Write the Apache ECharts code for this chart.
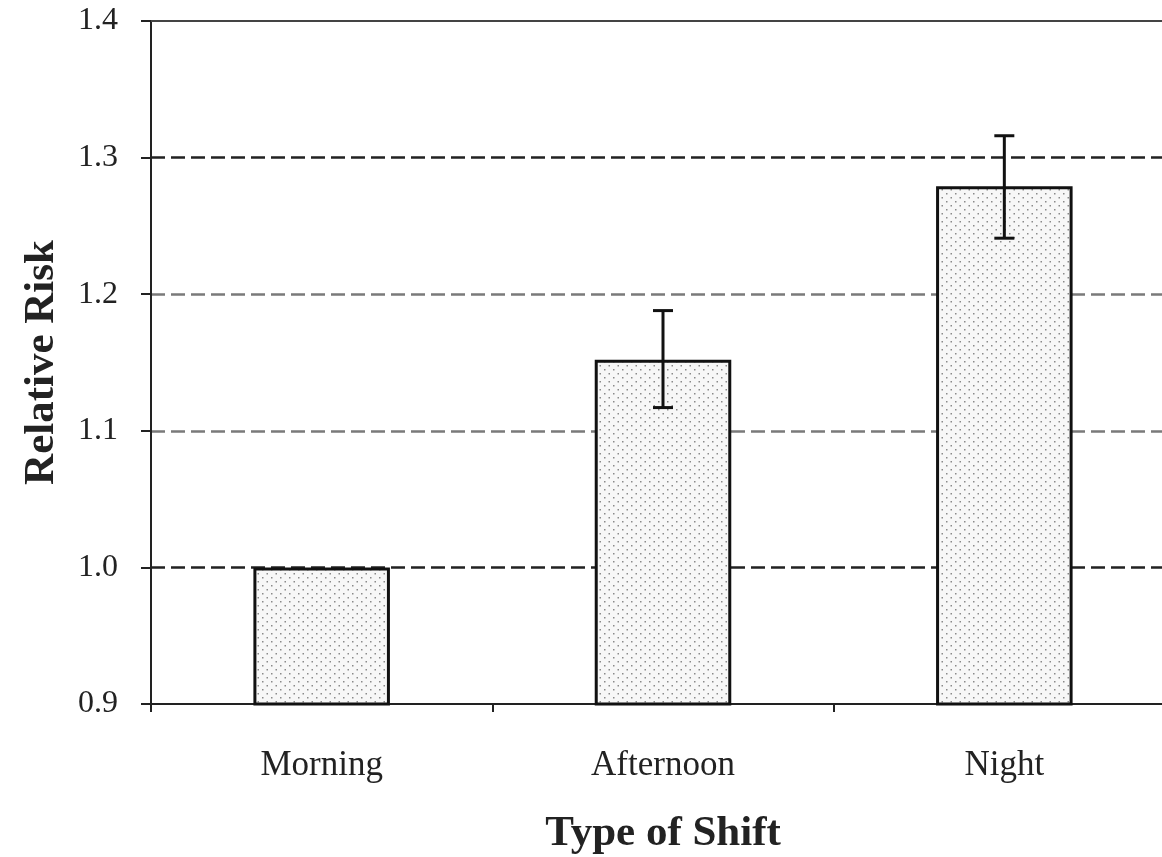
<!DOCTYPE html>
<html>
<head>
<meta charset="utf-8">
<script src="https://cdn.jsdelivr.net/npm/echarts@6/dist/echarts.min.js"></script>
<style>
  html, body { margin: 0; padding: 0; background: #fff; }
  #chart { width: 1162px; height: 857px; }
</style>
</head>
<body>
<div id="chart"></div>
<script>
// Relative risk of injury by type of shift, with 95% confidence intervals
const shifts = ['Morning', 'Afternoon', 'Night'];
const relativeRisk = [1.0, 1.152, 1.279];
const ciLower = [null, 1.117, 1.241];
const ciUpper = [null, 1.188, 1.316];

// Stippled fill for the bars
function dotPattern() {
  const c = document.createElement('canvas');
  c.width = 9; c.height = 8;
  const g = c.getContext('2d');
  g.fillStyle = '#f7f7f7';
  g.fillRect(0, 0, 9, 8);
  g.fillStyle = '#8a8a8a';
  g.fillRect(1, 1, 1.5, 1.5);
  g.fillRect(5.5, 5, 1.5, 1.5);
  return c;
}

const errorData = shifts.map((s, i) => [i, ciLower[i], ciUpper[i]]).filter(d => d[1] != null);

const chart = echarts.init(document.getElementById('chart'));
const serif = '"Liberation Serif", "Times New Roman", serif';

chart.setOption({
  animation: false,
  backgroundColor: '#fff',
  grid: { left: 151, top: 21, width: 1024, height: 683, outerBoundsMode: 'none', containLabel: false },
  xAxis: [{
    type: 'category',
    data: shifts,
    position: 'bottom',
    axisLine: { lineStyle: { color: '#222', width: 2 } },
    axisTick: { show: true, length: 8, lineStyle: { color: '#222', width: 2 } },
    axisLabel: { fontFamily: serif, fontSize: 35, color: '#222', margin: 44 },
    name: 'Type of Shift',
    nameLocation: 'middle',
    nameGap: 108,
    nameTextStyle: { fontFamily: serif, fontSize: 43, fontWeight: 'bold', color: '#222' }
  }, {
    type: 'category',
    data: shifts,
    position: 'top',
    axisLine: { lineStyle: { color: '#444', width: 2 } },
    axisTick: { show: false },
    axisLabel: { show: false }
  }],
  yAxis: {
    type: 'value',
    min: 0.9, max: 1.4, interval: 0.1,
    axisLine: { show: true, lineStyle: { color: '#222', width: 2 } },
    axisTick: { show: true, length: 10, lineStyle: { color: '#222', width: 2 } },
    axisLabel: {
      fontFamily: serif, fontSize: 32, color: '#222', margin: 33,
      formatter: v => v.toFixed(1)
    },
    splitLine: {
      show: true,
      lineStyle: {
        type: [14, 6],
        width: 2.5,
        color: ['rgba(0,0,0,0)', '#222', '#7a7a7a', '#7a7a7a', '#222', 'rgba(0,0,0,0)']
      }
    },
    name: 'Relative Risk',
    nameLocation: 'middle',
    nameGap: 88,
    nameTextStyle: { fontFamily: serif, fontSize: 43, fontWeight: 'bold', color: '#222' }
  },
  series: [{
    type: 'bar',
    data: relativeRisk,
    barWidth: '40%',
    itemStyle: {
      color: { image: dotPattern(), repeat: 'repeat' },
      borderColor: '#111',
      borderWidth: 3
    },
    z: 3
  }, {
    type: 'custom',
    data: errorData,
    z: 5,
    renderItem: function (params, api) {
      const x = api.value(0);
      const lo = api.coord([x, api.value(1)]);
      const hi = api.coord([x, api.value(2)]);
      const half = 10;
      const st = { stroke: '#111', lineWidth: 3 };
      return {
        type: 'group',
        children: [
          { type: 'line', shape: { x1: lo[0], y1: lo[1], x2: hi[0], y2: hi[1] }, style: st },
          { type: 'line', shape: { x1: hi[0] - half, y1: hi[1], x2: hi[0] + half, y2: hi[1] }, style: st },
          { type: 'line', shape: { x1: lo[0] - half, y1: lo[1], x2: lo[0] + half, y2: lo[1] }, style: st }
        ]
      };
    }
  }]
});
</script>
</body>
</html>
